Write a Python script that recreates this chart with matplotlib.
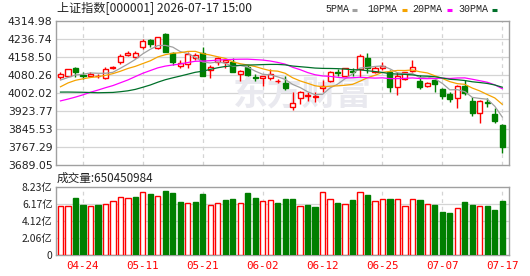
import matplotlib
matplotlib.use('Agg')
import matplotlib.pyplot as plt
from matplotlib.lines import Line2D
import numpy as np
import pandas as pd

plt.rcParams['font.family'] = ['Noto Sans CJK SC', 'DejaVu Sans']

# daily candles (index points)
opens = [4071, 4077, 4112, 4079, 4076, 4075, 4066, 4109, 4135, 4167,
         4160, 4200, 4232, 4196, 4258, 4175, 4121, 4127, 4155, 4175,
         4102, 4135, 4138, 4138, 4083, 4114, 4070, 4066, 4068, 4054,
         4044, 3940, 3979, 3988, 3985, 4025, 4055, 4093, 4077, 4097,
         4106, 4155, 4092, 4109, 4095, 4030, 4063, 4099, 4054, 4034,
         4058, 4018, 3998, 3979, 4032, 3967, 3914, 3962, 3911, 3863]
highs = [4092, 4108, 4115, 4092, 4094, 4085, 4113, 4119, 4170, 4183,
         4186, 4235, 4235, 4246, 4264, 4180, 4145, 4179, 4175, 4203,
         4124, 4157, 4153, 4155, 4101, 4124, 4083, 4078, 4106, 4064,
         4076, 4005, 4010, 4005, 4005, 4058, 4099, 4106, 4112, 4110,
         4170, 4175, 4121, 4135, 4102, 4095, 4095, 4145, 4080, 4049,
         4062, 4025, 4005, 4036, 4058, 3983, 3970, 3979, 3938, 3867]
lows = [4063, 4075, 4073, 4063, 4073, 4066, 4064, 4106, 4128, 4163,
        4155, 4192, 4203, 4195, 4180, 4124, 4112, 4112, 4145, 4075,
        4068, 4124, 4109, 4093, 4055, 4078, 4054, 4034, 4058, 4045,
        4015, 3928, 3953, 3967, 3961, 4008, 4052, 4076, 4075, 4075,
        4073, 4088, 4088, 4102, 4008, 3993, 4060, 4092, 4019, 4030,
        4008, 3975, 3964, 3938, 3995, 3903, 3870, 3942, 3870, 3743]
closes = [4083, 4106, 4095, 4076, 4086, 4076, 4106, 4116, 4164, 4178,
          4176, 4228, 4215, 4244, 4182, 4138, 4131, 4172, 4167, 4077,
          4116, 4153, 4145, 4095, 4099, 4080, 4067, 4076, 4083, 4056,
          4025, 3957, 4008, 3992, 3990, 4034, 4095, 4091, 4109, 4094,
          4163, 4109, 4112, 4121, 4030, 4077, 4092, 4114, 4030, 4044,
          4040, 3990, 3975, 4034, 4000, 3916, 3967, 3958, 3882, 3766]
# closes before the first visible day, only used for the moving averages
prior_closes = [4100, 4110, 4090, 4120, 4105, 4085, 4095, 4070, 4060, 3990,
                3950, 3920, 3880, 3860, 3890, 3900, 3930, 3920, 3933, 3880,
                3940, 3980, 4010, 4030, 4040, 4050, 4040, 4060, 4058]
# volume in 亿
volumes = [5.90, 5.90, 6.85, 6.10, 5.97, 6.10, 6.22, 6.58, 7.05, 6.95,
           7.08, 7.62, 7.39, 7.11, 7.75, 7.51, 6.43, 6.27, 6.43, 7.39,
           6.02, 6.27, 6.67, 6.75, 6.27, 7.51, 6.91, 6.51, 6.71, 6.31,
           6.75, 6.75, 5.90, 6.02, 5.78, 7.59, 6.83, 6.27, 6.14, 6.63,
           7.59, 7.23, 6.51, 6.83, 6.75, 6.75, 5.98, 6.83, 6.63, 6.14,
           6.02, 5.22, 5.10, 5.66, 6.43, 6.02, 5.90, 5.90, 5.42, 6.50]

tick_idx = [3, 11, 19, 27, 35, 43, 51, 59]
tick_labels = ['04-24', '05-11', '05-21', '06-02', '06-12', '06-25', '07-07', '07-17']
price_ticks = [3689.05, 3767.29, 3845.53, 3923.77, 4002.02, 4080.26, 4158.50, 4236.74, 4314.98]
vol_ticks = [0, 2.0575, 4.115, 6.1725, 8.23]
vol_tick_labels = ['0', '2.06亿', '4.12亿', '6.17亿', '8.23亿']
ma_periods = [5, 10, 20, 30]
ma_colors = ['#a0a0a0', '#f5a300', '#ff00ff', '#00702a']

RED = '#ff0000'
GREEN = '#007f00'
GRID = '#d4d4d4'
FRAME = '#a0a0a0'

o = np.array(opens)
h = np.array(highs)
l = np.array(lows)
c = np.array(closes)
x = np.arange(len(c))
up = c >= o

W, H = 530, 276
fig = plt.figure(figsize=(W / 100, H / 100), dpi=100)
ax = fig.add_axes([56 / W, 1 - 165 / H, 453 / W, 144 / H])
axv = fig.add_axes([56 / W, 1 - 255 / H, 453 / W, 68 / H])

for a in (ax, axv):
    for s in a.spines.values():
        s.set_color(FRAME)
        s.set_linewidth(1.0)
    a.set_xlim(-0.6, 59.9)
    a.tick_params(length=0)
    for t in tick_idx:
        a.axvline(t, color=GRID, lw=0.9, ls=(0, (3, 3)), zorder=0)

# price panel
ax.set_ylim(price_ticks[0], price_ticks[-1])
ax.set_yticks(price_ticks)
ax.set_yticklabels(['%.2f' % v for v in price_ticks], fontsize=7.8, color='#222222',
                   family='DejaVu Sans')
ax.tick_params(axis='y', pad=2.5)
ax.set_xticks([])
for v in price_ticks[1:-1]:
    ax.axhline(v, color=GRID, lw=0.9, zorder=0)

# watermark
ax.text(0.545, 0.49, '东方财富', transform=ax.transAxes, fontsize=25, fontweight='bold',
        color='#e9e9ef', ha='center', va='center', zorder=0.5)

ax.vlines(x, l, h, colors=np.where(up, RED, GREEN), lw=1.0, zorder=2)
ax.bar(x[up], (c - o)[up], bottom=o[up], width=0.68, facecolor='white',
       edgecolor=RED, lw=1.0, zorder=3)
ax.bar(x[~up], (o - c)[~up], bottom=c[~up], width=0.68, facecolor=GREEN,
       edgecolor=GREEN, lw=1.0, zorder=3)

full = pd.Series(prior_closes + closes, dtype=float)
for n, col in zip(ma_periods, ma_colors):
    ma = full.rolling(n).mean().values[len(prior_closes):]
    ax.plot(x, ma, color=col, lw=0.9, zorder=4)

# volume panel, colour by change against previous close
prev = np.concatenate([[prior_closes[-1]], c[:-1]])
vup = c >= prev
vol = np.array(volumes)
axv.set_ylim(0, 8.23)
axv.set_yticks(vol_ticks)
axv.set_yticklabels(vol_tick_labels, fontsize=7.5, color='#222222')
axv.tick_params(axis='y', pad=2.5)
for v in vol_ticks[1:-1]:
    axv.axhline(v, color=GRID, lw=0.9, zorder=0)
axv.bar(x[vup], vol[vup], width=0.7, facecolor='white', edgecolor=RED, lw=1.0, zorder=3)
axv.bar(x[~vup], vol[~vup], width=0.7, facecolor=GREEN, edgecolor=GREEN, lw=1.0, zorder=3)
axv.set_xticks(tick_idx)
axv.set_xticklabels(tick_labels, fontsize=7.8, color=RED, family='DejaVu Sans Mono')
axv.tick_params(axis='x', pad=4)

# header texts
fig.text(57 / W, 1 - 9 / H, '上证指数[000001] 2026-07-17 15:00', fontsize=8.7,
         color='#222222', va='center', ha='left')
fig.text(57 / W, 1 - 178 / H, '成交量:650450984', fontsize=8.4,
         color='#222222', va='center', ha='left')

legend_names = ['5PMA', '10PMA', '20PMA', '30PMA']
legend_text_x = [325, 367, 412, 458]
legend_dash_x = [352, 402, 447, 492]
for name, tx, dx, col in zip(legend_names, legend_text_x, legend_dash_x, ma_colors):
    fig.text(tx / W, 1 - 9.5 / H, name, fontsize=7.2, family='Liberation Mono',
             color='#222222', va='center', ha='left')
    fig.add_artist(Line2D([dx / W, (dx + 5) / W], [1 - 9.5 / H, 1 - 9.5 / H],
                          color=col, lw=2.2, solid_capstyle='butt'))

fig.savefig('out.png', dpi=100, facecolor='white')
